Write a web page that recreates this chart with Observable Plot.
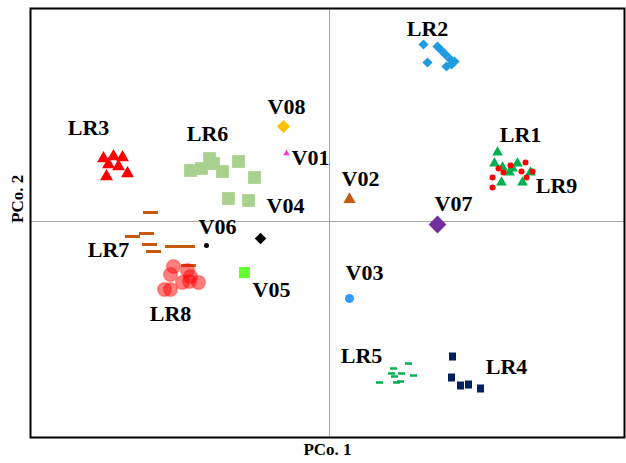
<!DOCTYPE html>
<html><head><meta charset="utf-8">
<script src="https://cdn.jsdelivr.net/npm/d3@7"></script>
<script src="https://cdn.jsdelivr.net/npm/@observablehq/plot@0.6"></script>
<style>body{margin:0;background:#fff}</style>
</head><body><div id="chart"></div>
<script>
// PCo.1 / PCo.2 coordinates
const LR1 = [[.168,.069],[.165,.058],[.173,.054],[.180,.049],[.188,.058],[.172,.039],[.193,.039],[.201,.049],[.183,.053]];
const LR9 = [[.163,.044],[.163,.034],[.174,.049],[.181,.056],[.196,.059],[.192,.050],[.197,.044],[.203,.050],[.169,.053]];
const LR2 = [[.094,.177],[.108,.175],[.112,.171],[.116,.167],[.121,.162],[.125,.160],[.098,.159],[.117,.155],[.122,.157]];
const LR3 = [[-.226,.063],[-.216,.065],[-.207,.064],[-.221,.057],[-.211,.055],[-.223,.045],[-.202,.048]];
const LR6 = [[-.139,.051],[-.128,.053],[-.120,.063],[-.116,.058],[-.107,.050],[-.091,.060],[-.075,.044],[-.101,.023],[-.081,.021]];
const LR7 = [[-.179,.009],[-.197,-.015],[-.183,-.012],[-.180,-.023],[-.176,-.030],[-.157,-.025],[-.149,-.025],[-.142,-.025],[-.141,-.044]];
const LR8 = [[-.156,-.045],[-.159,-.053],[-.142,-.049],[-.147,-.061],[-.140,-.060],[-.131,-.061],[-.165,-.068],[-.159,-.068],[-.139,-.055]];
const LR5 = [[.064,-.147],[.079,-.142],[.062,-.152],[.065,-.155],[.072,-.152],[.084,-.154],[.050,-.161],[.067,-.161],[.071,-.160]];
const LR4 = [[.123,-.135],[.122,-.156],[.131,-.164],[.139,-.163],[.151,-.167]];
const V01 = [[-.043,.068]];
const V02 = [[.020,.022]];
const V03 = [[.020,-.077]];
const V05 = [[-.085,-.051]];
const V06 = [[-.123,-.024],[-.069,-.017]];
const V07 = [[.108,-.003]];
const V08 = [[-.046,.095]];

const labelText = ["LR1","LR9","LR2","LR3","LR6","LR7","LR8","LR5","LR4","V08","V01","V02","V04","V06","V07","V03","V05"];
const labelX = [.191,.227,.098,-.241,-.122,-.221,-.159,.032,.177,-.043,-.019,.031,-.044,-.112,.124,.035,-.058];
const labelY = [.087,.036,.193,.094,.088,-.028,-.092,-.134,-.145,.115,.064,.043,.016,-.005,.018,-.051,-.068];
const labels = labelText.map((t,i)=>({t, x:labelX[i], y:labelY[i]}));

function rectSymbol(w,h){
  return {draw(ctx){ctx.moveTo(-w/2,-h/2);ctx.lineTo(w/2,-h/2);ctx.lineTo(w/2,h/2);ctx.lineTo(-w/2,h/2);ctx.closePath();}};
}
const X = d=>d[0], Y = d=>d[1];
const dot = (data, opts) => Plot.dot(data, {x:X, y:Y, ...opts});

const chart = Plot.plot({
  width: 626, height: 463,
  marginLeft: 30, marginRight: 2, marginTop: 8, marginBottom: 26,
  x: {domain: [-0.299, 0.295], axis: null},
  y: {domain: [-0.216, 0.213], axis: null},
  style: {background: "#fff"},
  marks: [
    Plot.ruleX([0], {stroke: "#a6a6a6", strokeWidth: 1}),
    Plot.ruleY([0], {stroke: "#a6a6a6", strokeWidth: 1}),
    dot(LR2, {symbol: "diamond2", r: 4.6, fill: "#1f9be0"}),
    dot(LR3, {symbol: "triangle", r: 4.8, fill: "#ff0000"}),
    dot(LR6, {symbol: "square", r: 7.2, fill: "#a9d18e"}),
    dot(LR1, {symbol: "triangle", r: 4, fill: "#00b050"}),
    dot(LR9, {r: 3, fill: "#ff0000"}),
    dot(LR7, {symbol: rectSymbol(15, 3), fill: "#c55a11"}),
    dot(LR8, {r: 7, fill: "#ff0000", fillOpacity: 0.5, stroke: "#ff0000", strokeOpacity: 0.25}),
    dot(LR5, {symbol: rectSymbol(7, 2.5), fill: "#00b050"}),
    dot(LR4, {symbol: rectSymbol(7, 8), fill: "#002060"}),
    dot(V08, {symbol: "diamond2", r: 5.9, fill: "#ffc000"}),
    dot(V01, {symbol: "triangle", r: 2.4, fill: "#ff33cc"}),
    dot(V02, {symbol: "triangle", r: 4.6, fill: "#c55a11"}),
    dot(V07, {symbol: "diamond2", r: 8, fill: "#7030a0"}),
    dot(V03, {r: 4.5, fill: "#3399ff"}),
    dot(V05, {symbol: "square", r: 6.2, fill: "#66ff33"}),
    dot(V06.slice(0,1), {r: 2.5, fill: "#000"}),
    dot(V06.slice(1), {symbol: "diamond2", r: 5.2, fill: "#000"}),
    Plot.text(labels, {x: "x", y: "y", text: "t", fontFamily: "Liberation Serif", fontWeight: "bold", fontSize: 22, fill: "#000"}),
    Plot.frame({stroke: "#000", strokeWidth: 2}),
    Plot.text(["PCo. 1"], {frameAnchor: "bottom", dy: 17, text: d=>d, fontFamily: "Liberation Serif", fontWeight: "bold", fontSize: 17, fill: "#000"}),
    Plot.text(["PCo. 2"], {frameAnchor: "left", dx: -13, rotate: -90, text: d=>d, fontFamily: "Liberation Serif", fontWeight: "bold", fontSize: 17, fill: "#000"})
  ]
});
document.getElementById("chart").appendChild(chart);
</script>
</body></html>
